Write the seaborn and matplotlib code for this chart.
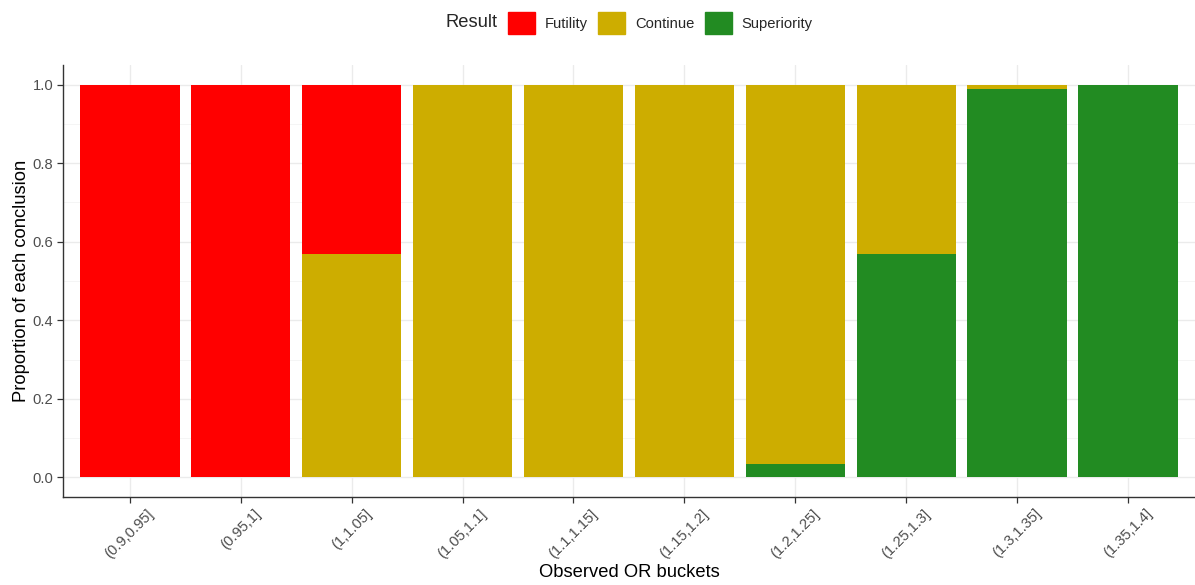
import numpy as np
import pandas as pd
import matplotlib
matplotlib.use("Agg")
import matplotlib.pyplot as plt
import matplotlib.patches as mpatches
import seaborn as sns

buckets = ["(0.9,0.95]", "(0.95,1]", "(1,1.05]", "(1.05,1.1]", "(1.1,1.15]",
           "(1.15,1.2]", "(1.2,1.25]", "(1.25,1.3]", "(1.3,1.35]", "(1.35,1.4]"]
futility = [1.0, 1.0, 0.43, 0.0, 0.0, 0.0, 0.0, 0.0, 0.0, 0.0]
cont = [0.0, 0.0, 0.57, 1.0, 1.0, 1.0, 0.967, 0.43, 0.01, 0.0]
superiority = [0.0, 0.0, 0.0, 0.0, 0.0, 0.0, 0.033, 0.57, 0.99, 1.0]

results = ["Futility", "Continue", "Superiority"]
colours = {"Futility": "#FF0000", "Continue": "#CDAD00", "Superiority": "#228B22"}

df = pd.DataFrame({"bucket": buckets, "Futility": futility,
                   "Continue": cont, "Superiority": superiority})
# cumulative heights so the overlapping bars look stacked
df["top_fut"] = df["Futility"] + df["Continue"] + df["Superiority"]
df["top_cont"] = df["Continue"] + df["Superiority"]
df["top_sup"] = df["Superiority"]

sns.set_theme(style="white")
plt.rcParams["font.family"] = ["Liberation Sans", "DejaVu Sans"]

fig = plt.figure(figsize=(11.95, 5.85), dpi=100)
ax = fig.add_axes([0.0527, 0.1504, 0.9473, 0.7385])

for col, res in zip(["top_fut", "top_cont", "top_sup"], results):
    sns.barplot(data=df, x="bucket", y=col, order=buckets, color=colours[res],
                saturation=1, width=0.9, linewidth=0, ax=ax, zorder=2)

ax.set_xlim(-0.6, len(buckets) - 0.4)
ax.set_ylim(-0.05, 1.05)
ax.set_yticks(np.arange(0, 1.01, 0.2))
ax.set_yticks(np.arange(0.1, 1.0, 0.2), minor=True)
ax.set_yticklabels([f"{v:.1f}" for v in np.arange(0, 1.01, 0.2)])
ax.grid(True, which="major", color="#EBEBEB", linewidth=1.0, zorder=0)
ax.grid(True, which="minor", axis="y", color="#F4F4F4", linewidth=0.6, zorder=0)
ax.set_axisbelow(True)

for s in ["top", "right"]:
    ax.spines[s].set_visible(False)
for s in ["left", "bottom"]:
    ax.spines[s].set_color("#333333")
    ax.spines[s].set_linewidth(1.0)

ax.tick_params(axis="both", which="major", length=4, width=0.9, color="#333333",
               labelsize=10.6, labelcolor="#4D4D4D", bottom=True, left=True, pad=3)
ax.tick_params(axis="y", which="minor", length=0)
plt.setp(ax.get_xticklabels(), rotation=45, ha="center", va="top")

ax.set_xlabel("Observed OR buckets", fontsize=13.2, color="black", labelpad=2)
ax.set_ylabel("Proportion of each conclusion", fontsize=13.2, color="black", labelpad=2)

handles = [mpatches.Patch(color=colours[r], label=r) for r in results]
fig.text(0.4159, 0.9607, "Result", fontsize=13.2, ha="right", va="center")
fig.legend(handles=handles, loc="center left", bbox_to_anchor=(0.4251, 0.9607),
           ncol=3, frameon=False, fontsize=10.6, handlelength=1.84, handleheight=1.84,
           handletextpad=0.68, columnspacing=0.68, borderaxespad=0, borderpad=0)

fig.savefig("out.png", dpi=100)
